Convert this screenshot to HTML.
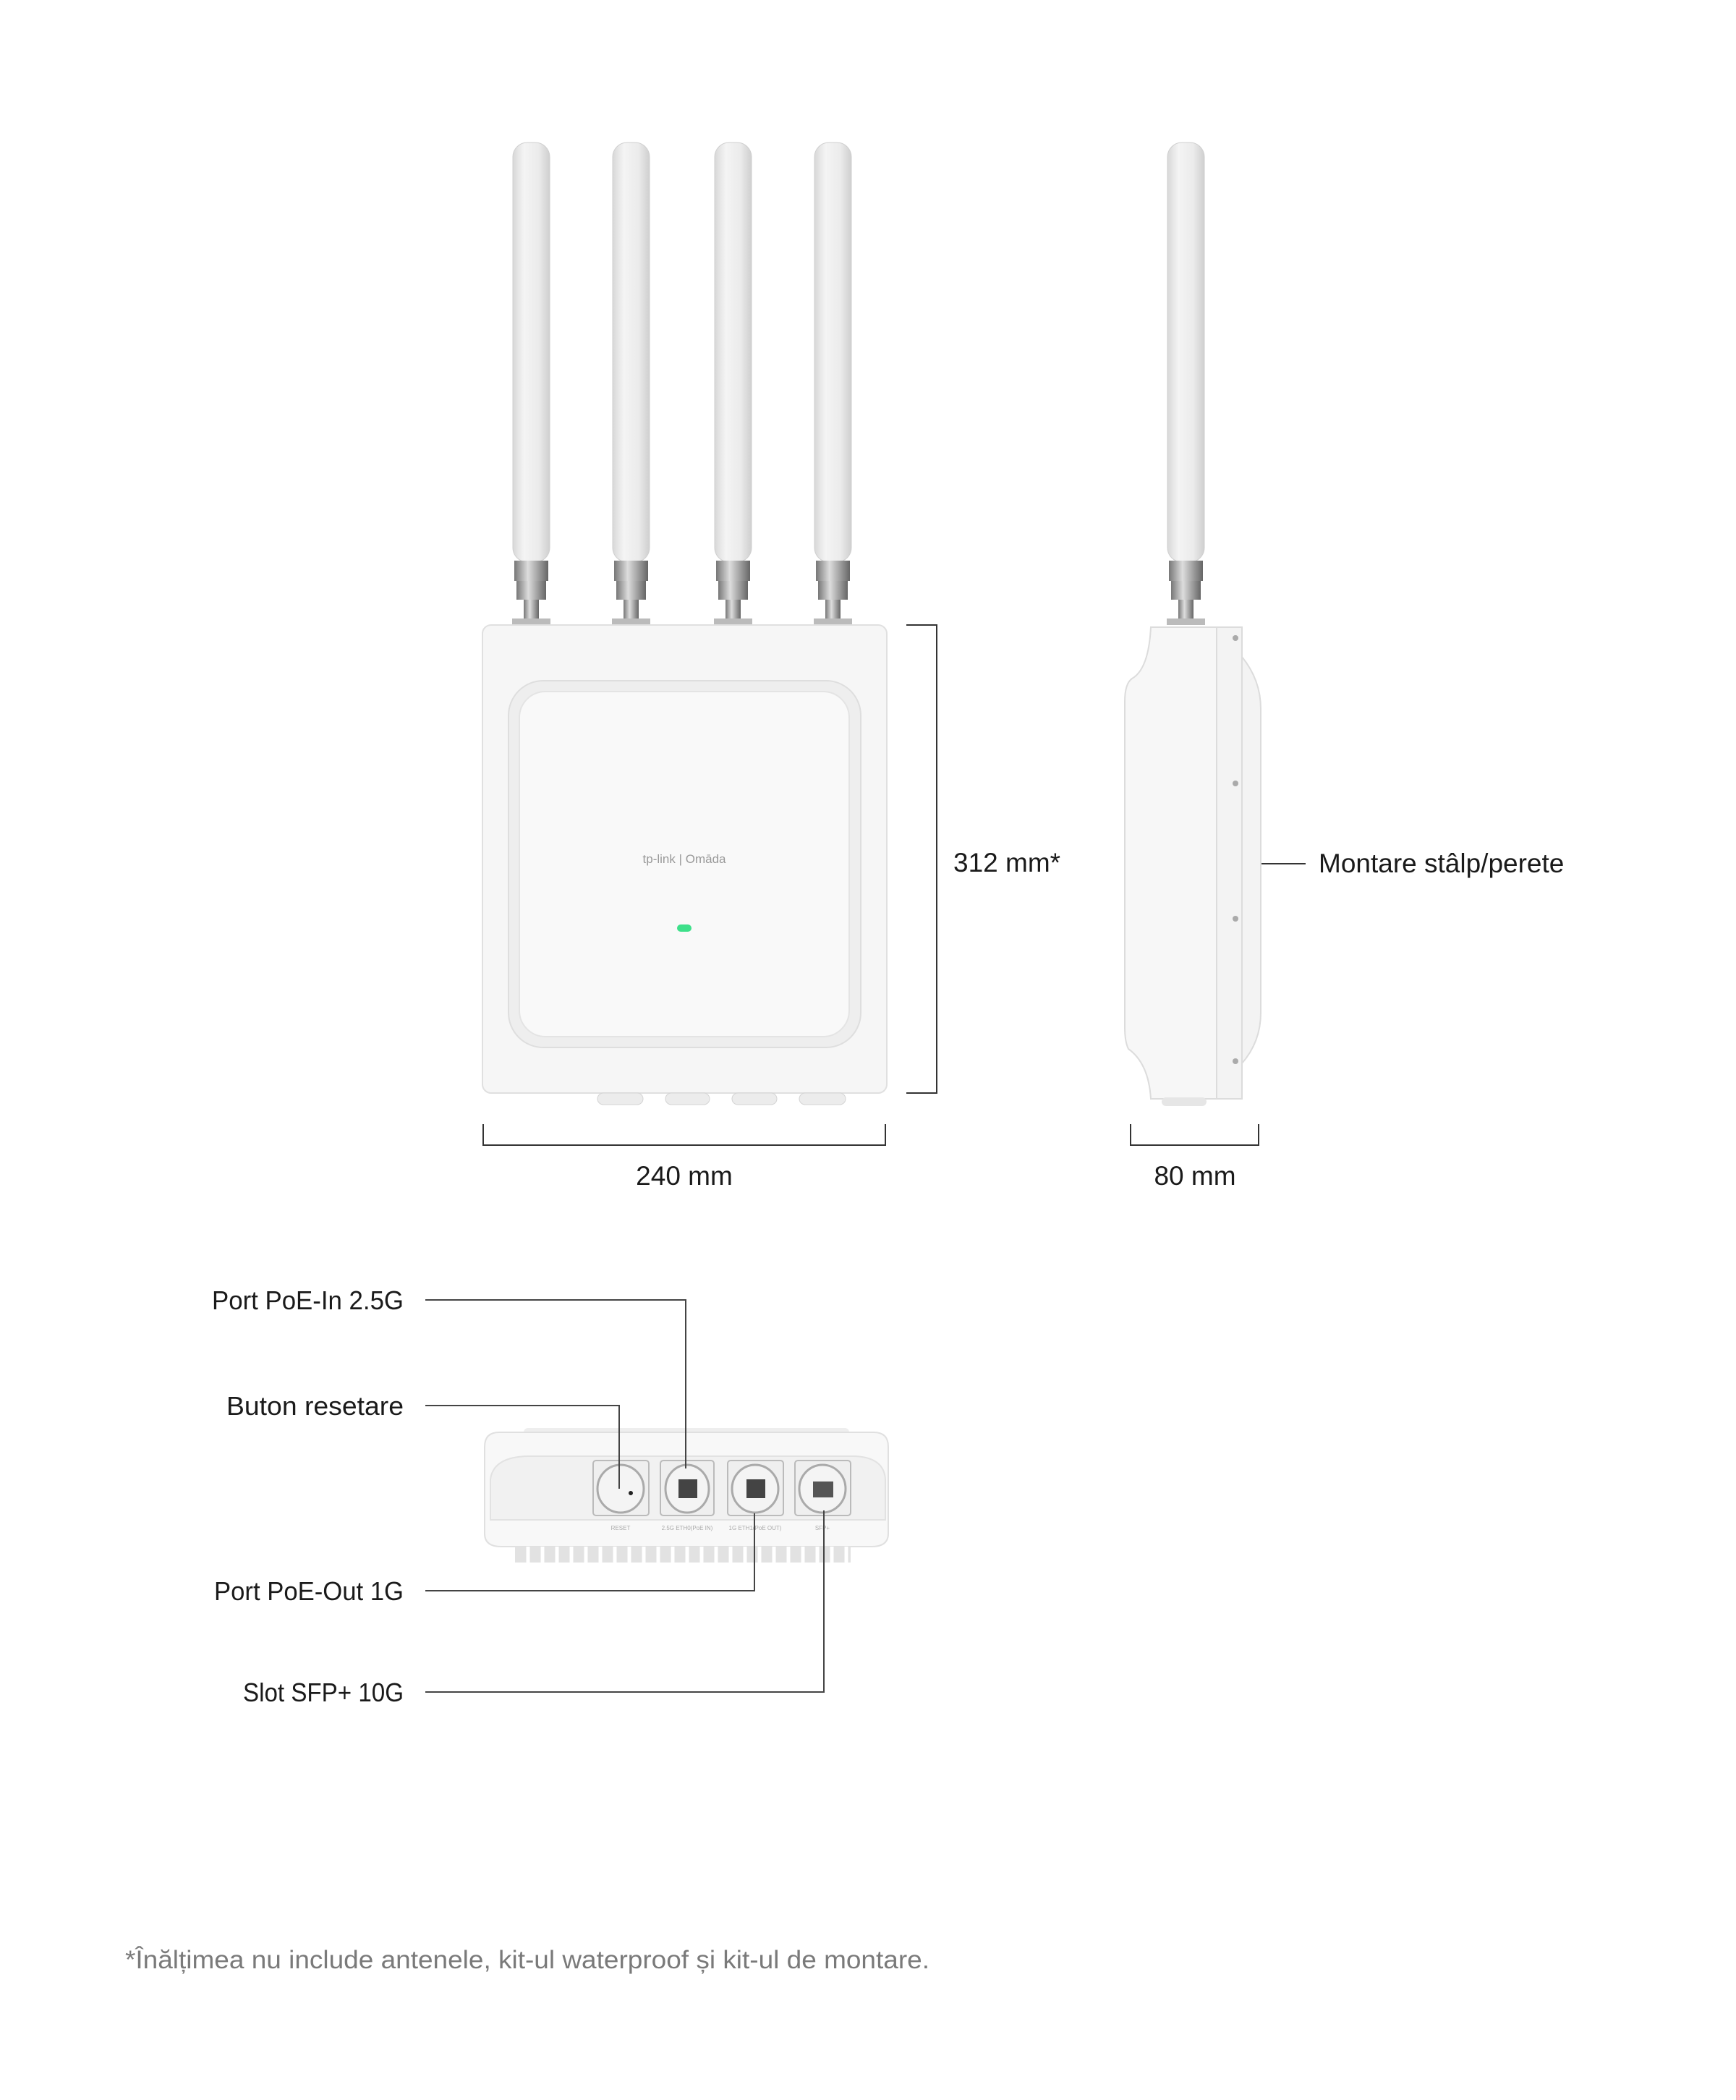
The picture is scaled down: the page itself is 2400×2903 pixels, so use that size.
<!DOCTYPE html>
<html><head><meta charset="utf-8"><style>
html,body{margin:0;padding:0;background:#fff;}
svg{display:block;}
text{font-family:"Liberation Sans",sans-serif;fill:#1a1a1a;}
</style></head><body>
<svg width="2400" height="2903" viewBox="0 0 2400 2903" xmlns="http://www.w3.org/2000/svg">
<defs>
<linearGradient id="ant" x1="0" x2="1" y1="0" y2="0">
<stop offset="0" stop-color="#d8d8d8"/><stop offset="0.3" stop-color="#f4f4f4"/><stop offset="0.7" stop-color="#ebebeb"/><stop offset="1" stop-color="#cfcfcf"/></linearGradient>
<linearGradient id="met" x1="0" x2="1"><stop offset="0" stop-color="#777"/><stop offset="0.4" stop-color="#ddd"/><stop offset="1" stop-color="#666"/></linearGradient>
</defs>

<g id="a1">
<rect x="709" y="197" width="51" height="580" rx="20" fill="url(#ant)" stroke="#cfcfcf"/>
<rect x="711" y="775" width="47" height="28" fill="url(#met)"/>
<rect x="714" y="803" width="41" height="26" fill="url(#met)"/>
<rect x="724" y="829" width="21" height="26" fill="url(#met)"/>
<rect x="708" y="855" width="53" height="9" fill="#bbb"/>
</g>
<use href="#a1" x="138"/><use href="#a1" x="279"/><use href="#a1" x="417"/>

<!-- front body -->
<rect x="667" y="864" width="559" height="647" rx="12" fill="#f6f6f6" stroke="#e0e0e0" stroke-width="2"/>
<rect x="703" y="941" width="487" height="507" rx="48" fill="#eeeeee" stroke="#dedede" stroke-width="2"/>
<rect x="718" y="956" width="456" height="477" rx="36" fill="#f9f9f9" stroke="#e4e4e4" stroke-width="2"/>
<text x="946" y="1193" font-size="17" text-anchor="middle" style="fill:#999">tp-link | Omāda</text>
<rect x="936" y="1278" width="20" height="10" rx="5" fill="#3ee08a"/>
<g fill="#ececec" stroke="#d4d4d4">
<rect x="826" y="1511" width="63" height="16" rx="8"/><rect x="920" y="1511" width="61" height="16" rx="8"/>
<rect x="1012" y="1511" width="62" height="16" rx="8"/><rect x="1105" y="1511" width="64" height="16" rx="8"/>
</g>

<g stroke="#333" stroke-width="2" fill="none">
<path d="M1253 864 H1295 V1511 H1253"/>
<path d="M668 1554 V1583 H1224 V1554"/>
<path d="M1563 1554 V1583 H1740 V1554"/>
<path d="M1743 1194 H1805"/>
</g>
<text x="1318" y="1205" font-size="37">312 mm*</text>
<text x="946" y="1638" font-size="37" text-anchor="middle">240  mm</text>
<text x="1652" y="1638" font-size="37" text-anchor="middle">80  mm</text>
<text x="1823" y="1206" font-size="37">Montare stâlp/perete</text>

<!-- side view -->
<use href="#a1" x="905"/>
<path d="M1591 867 H1682 V1519 H1591 Q1588 1470 1560 1450 Q1555 1440 1555 1420 V970 Q1555 945 1565 938 Q1588 925 1591 867 Z" fill="#f7f7f7" stroke="#dcdcdc" stroke-width="2"/>
<path d="M1717 908 Q1743 940 1743 980 V1400 Q1743 1440 1717 1470 Z" fill="#f3f3f3" stroke="#dcdcdc" stroke-width="2"/>
<rect x="1682" y="867" width="35" height="652" fill="#f3f3f3" stroke="#dcdcdc" stroke-width="2"/>
<rect x="1606" y="1517" width="62" height="12" rx="6" fill="#e6e6e6"/>
<g fill="#aaa"><circle cx="1708" cy="882" r="4"/><circle cx="1708" cy="1083" r="4"/><circle cx="1708" cy="1270" r="4"/><circle cx="1708" cy="1467" r="4"/></g>

<!-- bottom view device -->
<rect x="724" y="1974" width="450" height="16" rx="6" fill="#eee"/>
<path d="M690 1980 H1208 Q1228 1980 1228 2000 V2120 Q1228 2138 1205 2138 H693 Q670 2138 670 2120 V2000 Q670 1980 690 1980Z" fill="#f8f8f8" stroke="#e0e0e0" stroke-width="2"/>
<path d="M678 2101 V2045 Q682 2014 730 2013 H1180 Q1222 2014 1224 2045 V2101 Z" fill="#f1f1f1" stroke="#e2e2e2" stroke-width="2"/>
<rect x="712" y="2138" width="464" height="22" fill="#e2e2e2"/>
<g stroke="#fff" stroke-width="5">
<path d="M730 2138V2160M750 2138V2160M770 2138V2160M790 2138V2160M810 2138V2160M830 2138V2160M850 2138V2160M870 2138V2160M890 2138V2160M910 2138V2160M930 2138V2160M950 2138V2160M970 2138V2160M990 2138V2160M1010 2138V2160M1030 2138V2160M1050 2138V2160M1070 2138V2160M1090 2138V2160M1110 2138V2160M1130 2138V2160M1150 2138V2160M1170 2138V2160"/>
</g>
<g stroke="#bbb" stroke-width="2" fill="#efefef">
<rect x="820" y="2019" width="77" height="76" rx="4"/>
<rect x="913" y="2019" width="74" height="76" rx="4"/>
<rect x="1006" y="2019" width="77" height="76" rx="4"/>
<rect x="1099" y="2019" width="77" height="76" rx="4"/>
</g>
<g stroke="#aaa" stroke-width="3" fill="#f4f4f4">
<ellipse cx="858" cy="2058" rx="32" ry="33"/>
<ellipse cx="950" cy="2058" rx="30" ry="33"/>
<ellipse cx="1044" cy="2058" rx="32" ry="33"/>
<ellipse cx="1137" cy="2058" rx="32" ry="33"/>
</g>
<circle cx="872" cy="2064" r="3" fill="#222"/>
<rect x="938" y="2045" width="26" height="26" fill="#444"/>
<rect x="1032" y="2045" width="26" height="26" fill="#444"/>
<rect x="1124" y="2048" width="28" height="22" fill="#555"/>
<text x="858" y="2115" font-size="8" style="fill:#aaa" text-anchor="middle">RESET</text>
<text x="950" y="2115" font-size="8" style="fill:#aaa" text-anchor="middle">2.5G ETH0(PoE IN)</text>
<text x="1044" y="2115" font-size="8" style="fill:#aaa" text-anchor="middle">1G ETH1(PoE OUT)</text>
<text x="1137" y="2115" font-size="8" style="fill:#aaa" text-anchor="middle">SFP+</text>

<!-- callouts -->
<g stroke="#444" stroke-width="2" fill="none">
<path d="M588 1797 H948 V2030"/>
<path d="M588 1943 H856 V2058"/>
<path d="M588 2199 H1043 V2092"/>
<path d="M588 2339 H1139 V2088"/>
</g>
<g font-size="36" text-anchor="end">
<text x="558" y="1810" textLength="265" lengthAdjust="spacingAndGlyphs">Port PoE-In 2.5G</text>
<text x="558" y="1956" textLength="245" lengthAdjust="spacingAndGlyphs">Buton resetare</text>
<text x="558" y="2212" textLength="262" lengthAdjust="spacingAndGlyphs">Port PoE-Out 1G</text>
<text x="558" y="2352" textLength="222" lengthAdjust="spacingAndGlyphs">Slot SFP+ 10G</text>
</g>
<text x="173" y="2721" font-size="35" style="fill:#7a7a7a" textLength="1112" lengthAdjust="spacingAndGlyphs">*Înălțimea nu include antenele, kit-ul waterproof și kit-ul de montare.</text>
</svg>
</body></html>
